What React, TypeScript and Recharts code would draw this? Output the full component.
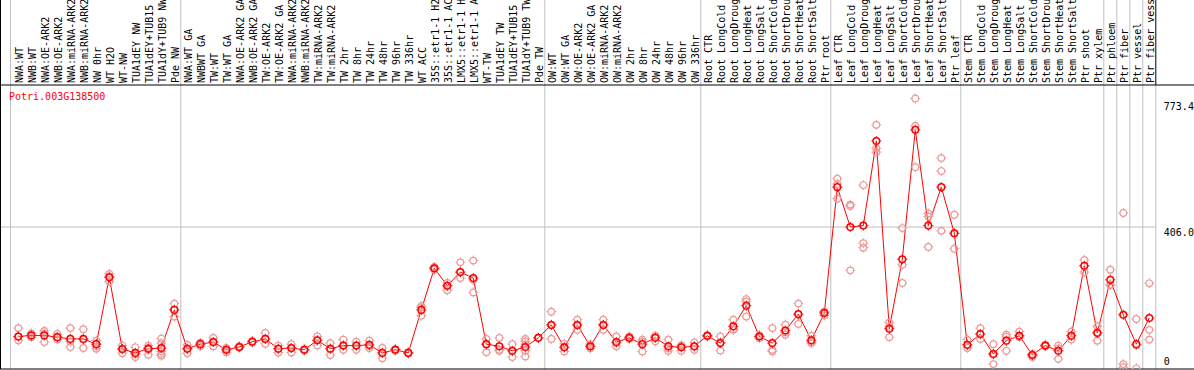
import React from 'react';
import { ComposedChart, XAxis, YAxis, Scatter, Line, ReferenceLine } from 'recharts';

const geneId = 'Potri.003G138500';

const categories = [
  'NWA:WT', 'NWB:WT', 'NWA:OE-ARK2', 'NWB:OE-ARK2', 'NWA:miRNA-ARK2', 'NWB:miRNA-ARK2', 'NW 0hr', 'WT H2O', 'WT-NW',
  'TUA1dEY NW', 'TUA1dEY+TUB15 NW', 'TUA1dY+TUB9 NW', 'Pde NW',
  'NWA:WT GA', 'NWBWT GA', 'TW:WT', 'TW:WT GA', 'NWA:OE-ARK2 GA', 'NWB:OE-ARK2 GA', 'TW:OE-ARK2', 'TW:OE-ARK2 GA',
  'NWA:miRNA-ARK2 GA', 'NWB:miRNA-ARK2 GA', 'TW:miRNA-ARK2', 'TW:miRNA-ARK2 GA', 'TW 2hr', 'TW 8hr', 'TW 24hr', 'TW 48hr',
  'TW 96hr', 'TW 336hr', 'WT ACC', '35S::etr1-1 H2O', '35S::etr1-1 ACC', 'LMX5::etr1-1 H2O', 'LMX5::etr1-1 ACC', 'WT-TW',
  'TUA1dEY TW', 'TUA1dEY+TUB15 TW', 'TUA1dY+TUB9 TW', 'Pde TW',
  'OW:WT', 'OW:WT GA', 'OW:OE-ARK2', 'OW:OE-ARK2 GA', 'OW:miRNA-ARK2', 'OW:miRNA-ARK2 GA', 'OW 2hr', 'OW 8hr', 'OW 24hr',
  'OW 48hr', 'OW 96hr', 'OW 336hr',
  'Root CTR', 'Root LongCold', 'Root LongDrought', 'Root LongHeat', 'Root LongSalt', 'Root ShortCold', 'Root ShortDrought',
  'Root ShortHeat', 'Root ShortSalt', 'Ptr root',
  'Leaf CTR', 'Leaf LongCold', 'Leaf LongDrought', 'Leaf LongHeat', 'Leaf LongSalt', 'Leaf ShortCold', 'Leaf ShortDrought',
  'Leaf ShortHeat', 'Leaf ShortSalt', 'Ptr leaf',
  'Stem CTR', 'Stem LongCold', 'Stem LongDrought', 'Stem LongHeat', 'Stem LongSalt', 'Stem ShortCold', 'Stem ShortDrought',
  'Stem ShortHeat', 'Stem ShortSalt', 'Ptr shoot', 'Ptr xylem',
  'Ptr phloem', 'Ptr fiber', 'Ptr vessel', 'Ptr fiber vessel',
];

const means = [
  93, 96, 96, 91, 86, 86, 71, 262, 57, 46, 58, 60, 169,
  58, 71, 77, 55, 63, 78, 86, 58, 60, 55, 82, 58, 67, 67, 69, 46, 55, 46, 169, 288, 238, 277, 260, 71, 65, 52, 63, 89,
  126, 62, 126, 65, 126, 77, 89, 71, 89, 65, 62, 65,
  95, 74, 122, 181, 93, 74, 110, 157, 82, 160,
  520, 406, 410, 652, 115, 314, 684, 410, 520, 388,
  69, 100, 43, 81, 95, 40, 67, 52, 95, 295, 103,
  255, 155, 71, 146,
];

const replicates: number[][] = [
  [117, 93, 82], [102, 96, 91], [109, 102, 77], [100, 91, 84], [117, 78, 63], [114, 84, 60], [81, 71, 64, 58],
  [272, 265, 250], [67, 57, 45], [62, 42, 34], [67, 61, 55, 41], [87, 74, 50, 43, 38], [187, 170, 150],
  [69, 58, 45], [75, 71, 65], [89, 77, 65], [60, 55, 48], [65, 63, 61], [80, 78, 76], [103, 86, 72], [67, 58, 47],
  [71, 60, 47], [57, 55, 53], [93, 82, 67], [74, 58, 40], [84, 67, 55], [78, 67, 55], [81, 66, 60], [60, 46, 31],
  [57, 55, 53], [48, 46, 44], [180, 176, 152], [292, 288, 284], [246, 238, 225], [305, 277, 260], [310, 255, 219],
  [86, 71, 48], [89, 55, 52], [71, 52, 34], [86, 79, 71, 52, 36], [89, 89],
  [164, 126, 86], [72, 62, 50], [141, 126, 112], [71, 65, 59], [141, 126, 112], [93, 74, 65], [93, 89, 86],
  [84, 78, 50], [95, 93, 79], [84, 59, 52], [68, 65, 52], [76, 64, 55],
  [97, 95, 93], [93, 76, 53], [141, 114, 112], [200, 193, 150], [97, 93, 88], [117, 55, 50], [127, 105, 98],
  [187, 155, 129], [95, 77, 74], [164, 163, 153],
  [544, 529, 487], [470, 466, 282], [526, 360, 347], [698, 631, 620], [133, 121, 91], [403, 298, 246],
  [773.4, 695, 577], [445, 436, 349], [603, 566, 395], [441, 388, 344],
  [84, 69, 60], [117, 100, 86], [71, 43, 14], [98, 92, 52], [107, 95, 91], [43, 40, 34], [69, 67, 65],
  [67, 59, 29], [107, 95, 84], [312, 295, 277], [122, 105, 81],
  [284, 241, 240], [446, 14, 5], [143, 68, 2], [245, 112, 84],
];

const groupBoundaries = [-0.6, 12.5, 40.5, 52.5, 62.5, 72.5, 83.5, 84.5, 85.5, 86.5];
const yTicks = [0, 406, 773.4];
const midGrid = 406;

// panel geometry in value units
const PANEL_MAX = 812;
const Y_TOP = (PANEL_MAX * 369) / 284;
const X_MIN = -1.408;
const X_MAX = 87.5;
const X_FAR = 90.45;

const FONT = "'DejaVu Sans Mono', 'Liberation Mono', monospace";
const RED = '#ff0000';
const PINK = '#ec9a9a';
const GRID = '#c0c0c0';

const meanData = means.map((v, i) => ({ i, v }));
const repData = replicates.flatMap((arr, i) => arr.map((v) => ({ i, v })));
const headerData = categories.map((label, i) => ({ i, v: PANEL_MAX, label }));

const Marker = ({ cx, cy, color, w }: any) => {
  if (cx == null || cy == null) return null;
  const r = 3.3;
  const t = 5;
  return (
    <g>
      <circle cx={cx} cy={cy} r={r} fill="none" stroke={color} strokeWidth={w} />
      <path
        d={`M${cx} ${cy - t}V${cy - r}M${cx} ${cy + r}V${cy + t}M${cx - t} ${cy}H${cx - r}M${cx + r} ${cy}H${cx + t}`}
        stroke={color}
        strokeWidth={1}
      />
    </g>
  );
};

const HeaderLabel = (props: any) => {
  const { cx, cy, payload } = props;
  if (cx == null || cy == null) return null;
  const y = cy - 2;
  return (
    <text
      x={cx}
      y={y}
      dy="0.5em"
      transform={`rotate(-90, ${cx}, ${y})`}
      textAnchor="start"
      fontFamily={FONT}
      fontSize={10}
      fill="#000"
    >
      {payload.label}
    </text>
  );
};

const yLabelShift: Record<string, number> = { '0': -7.3, '406': 5.8, '773.4': 8.3 };

const YTick = (props: any) => {
  const { x, y, payload } = props;
  const v = payload.value;
  const txt = v === 0 ? '0' : v.toFixed(1);
  return (
    <text x={x} y={y + (yLabelShift[String(v)] || 0)} dy="0.35em" textAnchor="start" fontFamily={FONT} fontSize={10} fill="#000">
      {txt}
    </text>
  );
};

export default function App() {
  return (
    <div style={{ position: 'absolute', left: 0, top: 0, width: 1194, height: 370, overflow: 'hidden', background: '#fff' }}>
      <ComposedChart width={1194} height={370} margin={{ top: 0, right: 0, left: 0, bottom: 1 }}>
        <XAxis dataKey="i" type="number" domain={[X_MIN, X_MAX]} allowDataOverflow hide />
        <YAxis
          orientation="right"
          type="number"
          domain={[0, Y_TOP]}
          allowDataOverflow
          ticks={yTicks}
          interval={0}
          width={38.2}
          axisLine={false}
          tickLine={false}
          tick={(p: any) => <YTick {...p} />}
        />
        <ReferenceLine
          segment={[{ x: X_MIN, y: midGrid }, { x: X_MAX, y: midGrid }]}
          stroke={GRID}
          ifOverflow="visible"
        />
        {groupBoundaries.map((b) => (
          <ReferenceLine key={b} segment={[{ x: b, y: 0 }, { x: b, y: Y_TOP }]} stroke={GRID} ifOverflow="visible" />
        ))}
        <ReferenceLine segment={[{ x: X_MAX, y: 0 }, { x: X_MAX, y: PANEL_MAX }]} stroke={GRID} ifOverflow="visible" />
        <ReferenceLine segment={[{ x: X_MAX, y: PANEL_MAX }, { x: X_MAX, y: Y_TOP }]} stroke="#000" ifOverflow="visible" />
        <ReferenceLine segment={[{ x: X_MIN, y: 0 }, { x: X_MIN, y: Y_TOP }]} stroke="#000" strokeWidth={2} ifOverflow="visible" />
        <ReferenceLine segment={[{ x: X_MIN, y: PANEL_MAX }, { x: X_FAR, y: PANEL_MAX }]} stroke="#000" ifOverflow="visible" />
        <ReferenceLine segment={[{ x: X_MIN, y: 0 }, { x: X_FAR, y: 0 }]} stroke="#000" ifOverflow="visible" />
        <Scatter data={headerData} dataKey="v" isAnimationActive={false} shape={(p: any) => <HeaderLabel {...p} />} />
        <Scatter
          data={repData}
          dataKey="v"
          isAnimationActive={false}
          shape={(p: any) => <Marker cx={p.cx} cy={p.cy} color={PINK} w={1.2} />}
        />
        <Line
          data={meanData}
          dataKey="v"
          type="linear"
          stroke={RED}
          strokeWidth={1}
          isAnimationActive={false}
          dot={(p: any) => <Marker key={p.index} cx={p.cx} cy={p.cy} color={RED} w={1.5} />}
          activeDot={false}
        />
      </ComposedChart>
      <div
        style={{
          position: 'absolute',
          left: 9,
          top: 91,
          fontFamily: FONT,
          fontSize: 10,
          lineHeight: '12px',
          color: RED,
          whiteSpace: 'nowrap',
        }}
      >
        {geneId}
      </div>
    </div>
  );
}
